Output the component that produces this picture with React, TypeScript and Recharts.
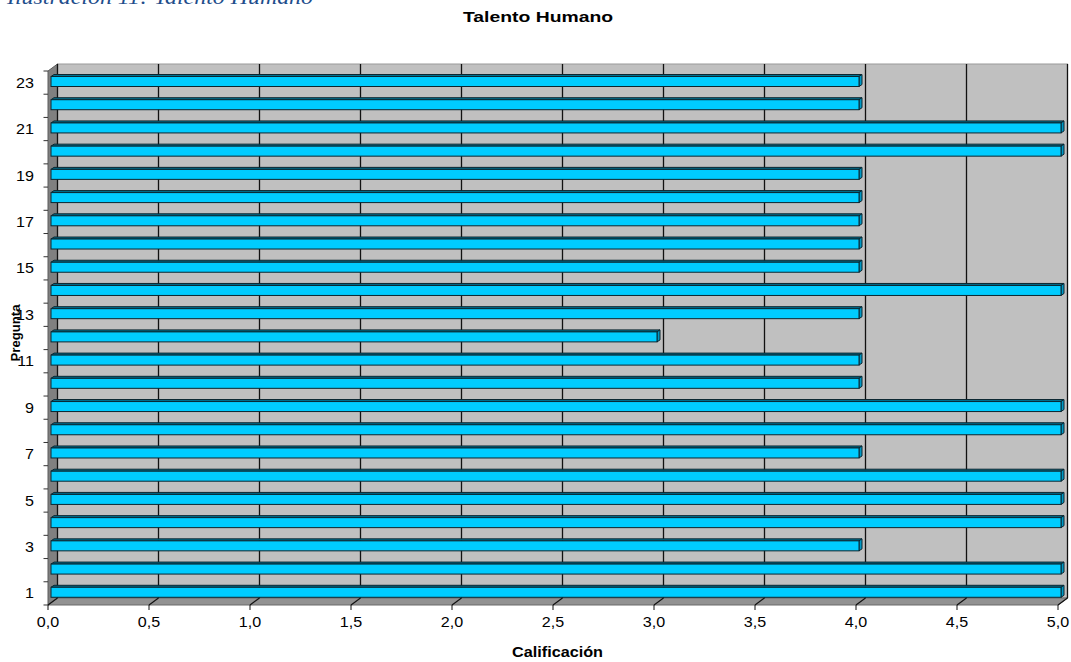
import { BarChart, Bar, XAxis, YAxis, ReferenceArea } from 'recharts';

// Calificación por pregunta (pregunta 1 .. 23)
const preguntas = [
  1, 2, 3, 4, 5, 6, 7, 8, 9, 10, 11, 12, 13, 14, 15, 16, 17, 18, 19, 20, 21, 22, 23,
];
const calificaciones = [
  5, 5, 4, 5, 5, 5, 4, 5, 5, 4, 4, 3, 4, 5, 4, 4, 4, 4, 4, 5, 5, 4, 4,
];
const xTicks = [0, 0.5, 1, 1.5, 2, 2.5, 3, 3.5, 4, 4.5, 5];

const data = preguntas.map((p, i) => ({ pregunta: p, calificacion: calificaciones[i] }));

const WIDTH = 1071;
const HEIGHT = 662;

// depth of the 3D walls and of the bars
const WALL_DX = 9.5;
const WALL_DY = -7;
const BAR_DX = 3;
const BAR_DY = -2;

const FONT = '"Liberation Sans", Arial, sans-serif';

const Walls = ({ x, y, width, height }: any) => {
  const maxVal = xTicks[xTicks.length - 1];
  const bottom = y + height;
  return (
    <g>
      {/* back wall */}
      <rect
        x={x + WALL_DX}
        y={y + WALL_DY}
        width={width}
        height={height}
        fill="#c0c0c0"
        stroke="#9a9a9a"
        strokeWidth={1}
      />
      {/* left wall */}
      <polygon
        points={`${x},${y} ${x + WALL_DX},${y + WALL_DY} ${x + WALL_DX},${bottom + WALL_DY} ${x},${bottom}`}
        fill="#808080"
        stroke="#5a5a5a"
        strokeWidth={1}
      />
      {/* floor */}
      <polygon
        points={`${x},${bottom} ${x + WALL_DX},${bottom + WALL_DY} ${x + width + WALL_DX},${bottom + WALL_DY} ${x + width},${bottom}`}
        fill="#929292"
        stroke="#6a6a6a"
        strokeWidth={1}
      />
      {xTicks.map((t) => {
        const fx = x + (t / maxVal) * width;
        return (
          <g key={t}>
            <line
              x1={fx + WALL_DX}
              y1={y + WALL_DY}
              x2={fx + WALL_DX}
              y2={bottom + WALL_DY}
              stroke="#111"
              strokeWidth={1.3}
            />
            <line x1={fx} y1={bottom} x2={fx + WALL_DX} y2={bottom + WALL_DY} stroke="#111" strokeWidth={1.2} />
          </g>
        );
      })}
    </g>
  );
};

const Bar3D = ({ x, y, width, height }: any) => {
  if (!width || width <= 0) return null;
  const bx = x + BAR_DX;
  const by = y + BAR_DY + 0.5;
  return (
    <g>
      <polygon
        points={`${bx},${by} ${bx + BAR_DX},${by + BAR_DY} ${bx + width + BAR_DX},${by + BAR_DY} ${bx + width},${by}`}
        fill="#00708f"
        stroke="#0b2630"
        strokeWidth={1}
      />
      <polygon
        points={`${bx + width},${by} ${bx + width + BAR_DX},${by + BAR_DY} ${bx + width + BAR_DX},${by + height + BAR_DY} ${bx + width},${by + height}`}
        fill="#0098c4"
        stroke="#0b2630"
        strokeWidth={1}
      />
      <rect x={bx} y={by} width={width} height={height} fill="#00ccff" stroke="#0b2630" strokeWidth={1} />
    </g>
  );
};

const YTick = ({ x, y, payload, index }: any) => {
  const band = 533.8 / preguntas.length;
  const value = payload.value;
  return (
    <g>
      {value % 2 === 1 && (
        <g transform={`translate(${x},${y}) scale(1.15,1)`}>
          <text x={0} y={0} textAnchor="end" dominantBaseline="central" fontSize={14} fontFamily={FONT} fill="#000">
            {value}
          </text>
        </g>
      )}
      <line x1={x + 9.5} y1={y + band / 2} x2={x + 14} y2={y + band / 2} stroke="#333" strokeWidth={1} />
      {index === preguntas.length - 1 && (
        <line x1={x + 9.5} y1={y - band / 2} x2={x + 14} y2={y - band / 2} stroke="#333" strokeWidth={1} />
      )}
    </g>
  );
};

const XTick = ({ x, y, payload }: any) => (
  <g transform={`translate(${x},${y}) scale(1.15,1)`}>
    <text x={0} y={0} textAnchor="middle" dominantBaseline="central" fontSize={14} fontFamily={FONT} fill="#000">
      {payload.value.toFixed(1).replace('.', ',')}
    </text>
  </g>
);

export default function App() {
  return (
    <div style={{ position: 'absolute', left: 0, top: 0, width: WIDTH, height: HEIGHT, background: '#fff' }}>
      <BarChart
        width={WIDTH}
        height={HEIGHT}
        data={data}
        layout="vertical"
        margin={{ top: 71, right: 13, bottom: 0, left: 0 }}
        barSize={10}
      >
        <ReferenceArea x1={0} x2={5} ifOverflow="visible" shape={<Walls />} />
        <XAxis
          type="number"
          domain={[0, 5]}
          ticks={xTicks}
          height={57}
          axisLine={false}
          tickSize={5}
          tickMargin={12}
          tickLine={{ stroke: '#111' }}
          tick={<XTick />}
          interval={0}
        />
        <YAxis
          type="category"
          dataKey="pregunta"
          reversed
          width={48}
          axisLine={false}
          tickLine={false}
          tickSize={0}
          tickMargin={14}
          interval={0}
          tick={<YTick />}
        />
        <Bar dataKey="calificacion" shape={<Bar3D />} isAnimationActive={false} />
      </BarChart>
      <svg
        width={WIDTH}
        height={HEIGHT}
        style={{ position: 'absolute', left: 0, top: 0, pointerEvents: 'none' }}
      >
        <text
          x={7}
          y={4}
          fontSize={21}
          fontStyle="italic"
          fontFamily='"Liberation Serif", "Times New Roman", serif'
          fill="#1f4e8c"
          textLength={306}
          lengthAdjust="spacingAndGlyphs"
        >
          Ilustración 11: Talento Humano
        </text>
        <text
          x={463}
          y={22}
          fontSize={15}
          fontWeight="bold"
          fontFamily={FONT}
          fill="#000"
          textLength={150}
          lengthAdjust="spacingAndGlyphs"
        >
          Talento Humano
        </text>
        <text
          x={512}
          y={657}
          fontSize={15}
          fontWeight="bold"
          fontFamily={FONT}
          fill="#000"
          textLength={91}
          lengthAdjust="spacingAndGlyphs"
        >
          Calificación
        </text>
        <text
          transform="translate(19.5,333) rotate(-90)"
          x={0}
          y={0}
          textAnchor="middle"
          fontSize={13}
          fontWeight="bold"
          fontFamily={FONT}
          fill="#000"
          textLength={57}
          lengthAdjust="spacingAndGlyphs"
        >
          Pregunta
        </text>
      </svg>
    </div>
  );
}
